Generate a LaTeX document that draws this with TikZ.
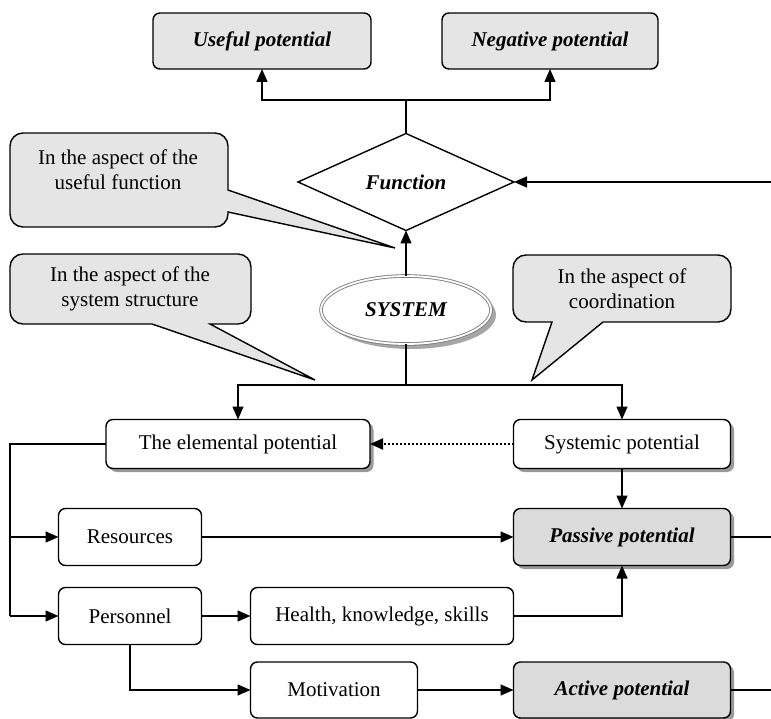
\documentclass[tikz,border=0pt]{standalone}
\usepackage{fontspec}
\setmainfont{Liberation Serif}
\usetikzlibrary{shapes.geometric,shadows,arrows.meta}
\begin{document}
\begin{tikzpicture}[x=1pt,y=-1pt,
  font=\fontsize{21}{25}\selectfont,
  every node/.style={inner sep=0pt, outer sep=0pt},
  box/.style={draw, line width=1.4pt, rounded corners=7pt, fill=white, align=center},
  graybox/.style={box, fill=black!10},
  darkbox/.style={box, fill=black!14},
  shad/.style={drop shadow={shadow xshift=3.5pt, shadow yshift=-3.5pt, fill=black!40, opacity=1}},
  bi/.style={font=\fontsize{21}{25}\selectfont\bfseries\itshape},
  conn/.style={line width=1.4pt},
  tip/.style={-{Triangle[length=13pt,width=11pt]}},
  arr/.style={conn, tip},
  callout/.style={draw, line width=1.4pt, fill=black!10, line join=miter},
  ctext/.style={align=center}
]
\useasboundingbox (0,0) rectangle (771,719);

% callouts (shapes)
\path[callout] (228,190) [rounded corners=13pt] -- (228,133) -- (10,133) -- (10,227) -- (228,227) [sharp corners] -- (228,212) -- (395,248) -- cycle;
\path[callout] (152,324) [rounded corners=13pt] -- (10,324) -- (10,254) -- (251,254) -- (251,324) [sharp corners] -- (210,324) -- (315,380) -- cycle;
\path[callout] (552,322) [rounded corners=13pt] -- (513,322) -- (513,255) -- (731,255) -- (731,322) [sharp corners] -- (603,322) -- (532,380) -- cycle;
\node[ctext] (c1) at (118,170) {In the aspect of the\\useful function};
\node[ctext] (c2) at (130,289) {In the aspect of the\\system structure};
\node[ctext] (c3) at (622,289) {In the aspect of\\coordination};

% nodes
\node[graybox, bi, minimum width=218pt, minimum height=56pt] (useful) at (262,41) {Useful potential};
\node[graybox, bi, minimum width=216pt, minimum height=56pt] (negative) at (550,41) {Negative potential};
\node[draw, line width=1.4pt, diamond, fill=white, minimum width=216pt, minimum height=97pt, bi] (func) at (406,182) {Function};
\node[ellipse, draw=black!50, line width=0.9pt, double=white, double distance=1.8pt, fill=white,
      drop shadow={shadow xshift=5pt, shadow yshift=-5pt, fill=black!35, opacity=1},
      minimum width=170pt, minimum height=68pt, bi] (sys) at (406,310) {SYSTEM};
\node[box, shad, minimum width=264pt, minimum height=49pt] (elem) at (238,444) {The elemental potential};
\node[box, shad, minimum width=217pt, minimum height=49pt] (systemic) at (622,444) {Systemic potential};
\node[box, minimum width=143pt, minimum height=57pt] (res) at (130,537) {Resources};
\node[darkbox, shad, bi, minimum width=217pt, minimum height=57pt] (passive) at (622,537) {Passive potential};
\node[box, minimum width=143pt, minimum height=57pt] (pers) at (130,616) {Personnel};
\node[box, minimum width=263pt, minimum height=57pt] (health) at (382,616) {Health, knowledge, skills};
\node[box, minimum width=167pt, minimum height=56pt] (motiv) at (334,690) {Motivation};
\node[darkbox, shad, bi, minimum width=217pt, minimum height=56pt] (active) at (622,690) {Active potential};

% coordinates
\coordinate (j1) at (406,100);
\coordinate (rin) at (771,182);
\coordinate (j2) at (406,385);
\coordinate (l1) at (10,444);
\coordinate (l2) at (10,537);
\coordinate (l3) at (10,616);
\coordinate (rout1) at (771,537);
\coordinate (rout2) at (771,690);

% connectors
\draw[conn] (func.north) -- (j1);
\draw[arr] (j1) -| (useful.south);
\draw[arr] (j1) -| (negative.south);
\draw[arr] (rin) -- (func.east);
\draw[arr] (sys.north) -- (func.south);
\draw[conn] (sys.south) -- (j2);
\draw[arr] (j2) -| (elem.north);
\draw[arr] (j2) -| (systemic.north);
\draw[line width=2pt, dotted, tip] (systemic.west) -- (elem.east);
\draw[conn] (elem.west) -- (l1) -- (l3);
\draw[arr] (l2) -- (res.west);
\draw[arr] (l3) -- (pers.west);
\draw[arr] (res.east) -- (passive.west);
\draw[arr] (systemic.south) -- (passive.north);
\draw[arr] (pers.east) -- (health.west);
\draw[arr] (health.east) -| (passive.south);
\draw[arr] (pers.south) |- (motiv.west);
\draw[arr] (motiv.east) -- (active.west);
\draw[conn] (passive.east) -- (rout1);
\draw[conn] (active.east) -- (rout2);
\end{tikzpicture}
\end{document}
